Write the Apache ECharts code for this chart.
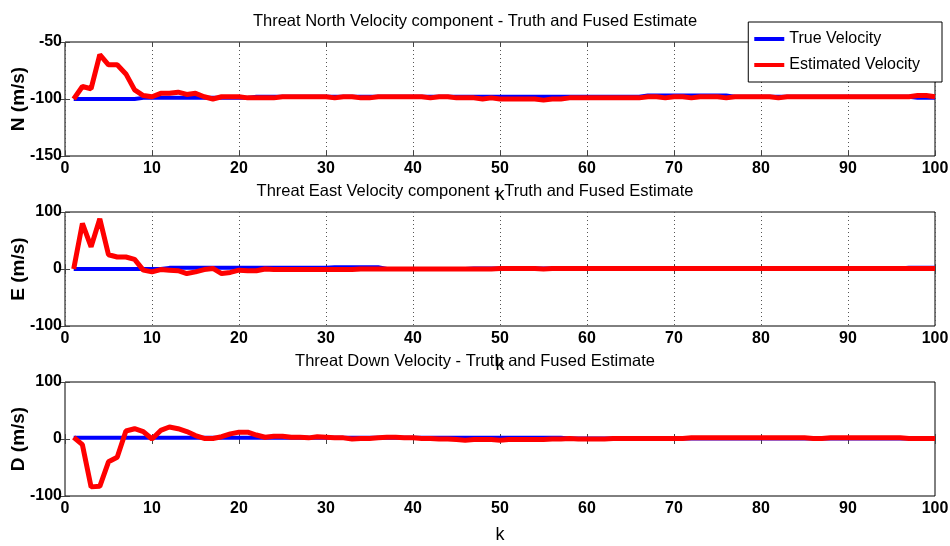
<!DOCTYPE html>
<html>
<head>
<meta charset="utf-8">
<script src="https://cdn.jsdelivr.net/npm/echarts@6/dist/echarts.min.js"></script>
<style>
  html, body { margin: 0; padding: 0; background: #fff; }
  #main { width: 950px; height: 546px; }
</style>
</head>
<body>
<div id="main"></div>
<script>
// time step k = 1..100
var kSteps = [];
for (var i = 1; i <= 100; i++) kSteps.push(i);

var titles = [
  'Threat North Velocity component - Truth and Fused Estimate',
  'Threat East Velocity component - Truth and Fused Estimate',
  'Threat Down Velocity - Truth and Fused Estimate'
];
var yNames = ['N (m/s)', 'E (m/s)', 'D (m/s)'];

// true velocity
var trueN = [
  -100, -100, -100, -100, -100, -100, -100, -100, -99, -99,
  -99, -99, -99, -99, -99, -99, -99, -99, -99, -99,
  -99, -98, -98, -98, -98, -98, -98, -98, -98, -98,
  -98, -98, -98, -98, -98, -98, -98, -98, -98, -98,
  -98, -98, -98, -98, -98, -98, -98, -98, -98, -98,
  -98, -98, -98, -98, -98, -98, -98, -98, -98, -98,
  -98, -98, -98, -98, -98, -98, -97, -97, -97, -97,
  -97, -97, -97, -97, -97, -97, -98, -98, -98, -98,
  -98, -98, -98, -98, -98, -98, -98, -98, -98, -98,
  -98, -98, -98, -98, -98, -98, -98, -99, -99, -99
];
var estN = [
  -100, -89, -91, -61, -70, -70, -78, -92, -97, -98,
  -95, -95, -94, -96, -95, -98, -100, -98, -98, -98,
  -99, -99, -99, -99, -98, -98, -98, -98, -98, -98,
  -99, -98, -98, -99, -99, -98, -98, -98, -98, -98,
  -98, -99, -98, -98, -99, -99, -99, -100, -99, -100,
  -100, -100, -100, -100, -101, -100, -100, -99, -99, -99,
  -99, -99, -99, -99, -99, -99, -98, -98, -99, -98,
  -98, -99, -98, -98, -98, -99, -98, -98, -98, -98,
  -98, -99, -98, -98, -98, -98, -98, -98, -98, -98,
  -98, -98, -98, -98, -98, -98, -98, -97, -97, -98
];

var trueE = [
  0, 0, 0, 0, 0, 0, 0, 0, 0, 0,
  0, 2, 2, 2, 2, 2, 2, 2, 2, 2,
  2, 2, 2, 2, 2, 2, 2, 2, 2, 2,
  3, 3, 3, 3, 3, 3, 0, 0, 0, 0,
  0, 0, 0, 0, 0, 0, 1, 1, 1, 1,
  1, 1, 1, 1, 1, 1, 1, 1, 1, 1,
  1, 1, 1, 1, 1, 1, 1, 1, 1, 1,
  1, 1, 1, 1, 1, 1, 1, 1, 1, 1,
  1, 1, 1, 1, 1, 1, 1, 1, 1, 1,
  1, 1, 1, 1, 1, 1, 2, 2, 2, 2
];
var estE = [
  0, 80, 39, 88, 25, 21, 21, 17, -2, -5,
  -1, -2, -3, -8, -5, -1, 1, -8, -6, -2,
  -3, -3, 0, -1, -1, -1, -1, -1, -1, -1,
  -1, -1, -1, 0, 0, 0, 0, 0, 0, 0,
  0, 0, 0, 0, 0, 0, 0, 0, 0, 1,
  1, 1, 1, 1, 0, 1, 1, 1, 1, 1,
  1, 1, 1, 1, 1, 1, 1, 1, 1, 1,
  1, 1, 1, 1, 1, 1, 1, 1, 1, 1,
  1, 1, 1, 1, 1, 1, 1, 1, 1, 1,
  1, 1, 1, 1, 1, 1, 1, 1, 1, 1
];

var trueD = [
  2, 2, 2, 2, 2, 2, 2, 2, 2, 2,
  2, 2, 2, 2, 2, 2, 2, 2, 2, 2,
  2, 2, 2, 2, 2, 2, 2, 2, 2, 2,
  2, 2, 2, 2, 2, 2, 2, 2, 2, 2,
  2, 2, 2, 2, 2, 2, 2, 2, 2, 2,
  2, 2, 2, 2, 2, 2, 2, 1, 1, 1,
  1, 1, 1, 1, 1, 1, 1, 1, 1, 1,
  1, 1, 1, 1, 1, 1, 1, 1, 1, 1,
  1, 1, 1, 1, 1, 1, 1, 1, 1, 1,
  1, 1, 1, 1, 1, 1, 1, 1, 1, 1
];
var estD = [
  3, -10, -84, -83, -40, -32, 14, 18, 13, 0,
  15, 21, 18, 13, 6, 1, 1, 4, 9, 12,
  12, 7, 3, 5, 5, 3, 3, 2, 4, 3,
  2, 2, 0, 1, 1, 2, 3, 3, 2, 2,
  1, 1, 0, 0, -1, -2, -1, -1, -1, -2,
  -1, -1, -1, -1, -1, 0, 0, 1, 0, 0,
  0, 0, 1, 1, 1, 1, 1, 1, 1, 1,
  1, 2, 2, 2, 2, 2, 2, 2, 2, 2,
  2, 2, 2, 2, 2, 1, 1, 2, 2, 2,
  2, 2, 2, 2, 2, 2, 1, 1, 1, 1
];

var yRanges = [[-150, -50, 50], [-100, 100, 100], [-100, 100, 100]];
var trueSets = [trueN, trueE, trueD];
var estSets = [estN, estE, estD];

var fontFam = "'Liberation Sans', Arial, sans-serif";
var gridTops = [42, 212, 382];
var gridH = 114;

function pairs(arr) {
  return kSteps.map(function (k, i) { return [k, arr[i]]; });
}

var grids = [], xAxes = [], yAxes = [], series = [], titleList = [];
for (var p = 0; p < 3; p++) {
  grids.push({
    left: 65, right: 15, top: gridTops[p], height: gridH,
    containLabel: false, outerBoundsMode: 'none',
    show: true, borderColor: '#000', borderWidth: 1, backgroundColor: '#fff'
  });
  titleList.push({
    text: titles[p], left: 'center', top: gridTops[p] - 34,
    textStyle: { fontFamily: fontFam, fontSize: 16.5, fontWeight: 'normal', color: '#000' }
  });
  // bottom x axis with labels
  xAxes.push({
    gridIndex: p, type: 'value', min: 0, max: 100, interval: 10,
    name: 'k', nameLocation: 'middle', nameGap: 30, nameMoveOverlap: false,
    nameTextStyle: { fontFamily: fontFam, fontSize: 18, color: '#000' },
    axisLine: { show: false },
    axisTick: { inside: true, length: 5, lineStyle: { color: '#444' } },
    axisLabel: { fontFamily: fontFam, fontSize: 16, fontWeight: 'bold', color: '#000', margin: 5 },
    splitLine: { show: p < 2, lineStyle: { type: [1, 3], color: '#555' } }
  });
  // mirrored top ticks
  xAxes.push({
    gridIndex: p, type: 'value', position: 'top', min: 0, max: 100, interval: 10,
    axisLine: { show: false },
    axisTick: { inside: true, length: 5, lineStyle: { color: '#444' } },
    axisLabel: { show: false }, splitLine: { show: false }
  });
  yAxes.push({
    gridIndex: p, type: 'value',
    min: yRanges[p][0], max: yRanges[p][1], interval: yRanges[p][2],
    name: yNames[p], nameLocation: 'middle', nameGap: 37, nameRotate: 90,
    nameMoveOverlap: false,
    nameTextStyle: { fontFamily: fontFam, fontSize: 19, fontWeight: 'bold', color: '#000' },
    axisLine: { show: false },
    axisTick: { inside: true, length: 5, lineStyle: { color: '#444' } },
    axisLabel: { fontFamily: fontFam, fontSize: 16, fontWeight: 'bold', color: '#000', margin: 3 },
    splitLine: { show: false }
  });
  yAxes.push({
    gridIndex: p, type: 'value', position: 'right',
    min: yRanges[p][0], max: yRanges[p][1], interval: yRanges[p][2],
    axisLine: { show: false },
    axisTick: { inside: true, length: 5, lineStyle: { color: '#444' } },
    axisLabel: { show: false }, splitLine: { show: false }
  });
  series.push({
    name: 'True Velocity', type: 'line', xAxisIndex: p * 2, yAxisIndex: p * 2,
    data: pairs(trueSets[p]), showSymbol: false, symbol: 'none',
    lineStyle: { color: '#0000ff', width: 4 }, itemStyle: { color: '#0000ff' },
    animation: false, z: 2
  });
  series.push({
    name: 'Estimated Velocity', type: 'line', xAxisIndex: p * 2, yAxisIndex: p * 2,
    data: pairs(estSets[p]), showSymbol: false, symbol: 'none',
    lineStyle: { color: '#ff0000', width: 5 }, itemStyle: { color: '#ff0000' },
    animation: false, z: 3
  });
}

var myChart = echarts.init(document.getElementById('main'));
myChart.setOption({
  animation: false,
  backgroundColor: '#fff',
  title: titleList,
  legend: {
    data: ['True Velocity', 'Estimated Velocity'],
    orient: 'vertical', right: 8, top: 22,
    backgroundColor: '#fff', borderColor: '#000', borderWidth: 1,
    padding: [9, 22, 9, 6], itemGap: 10,
    icon: 'rect', itemWidth: 30, itemHeight: 4,
    textStyle: { fontFamily: fontFam, fontSize: 16, color: '#000' }
  },
  grid: grids,
  xAxis: xAxes,
  yAxis: yAxes,
  series: series
});
</script>
</body>
</html>
